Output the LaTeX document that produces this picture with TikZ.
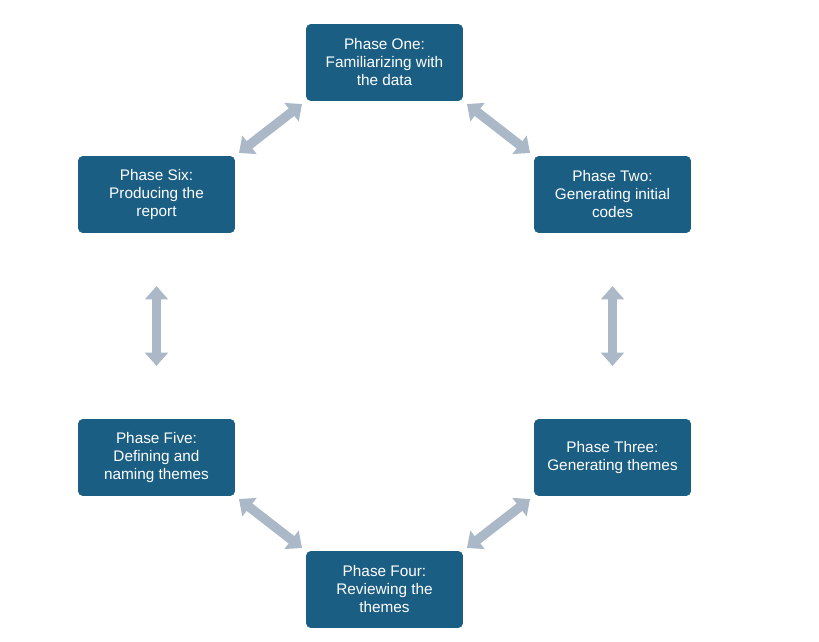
\documentclass[tikz,border=0pt]{standalone}
\usepackage{fontspec}
\setmainfont{Liberation Sans}
\usetikzlibrary{arrows.meta}
\definecolor{phaseblue}{HTML}{1B5E83}
\definecolor{linkgrey}{HTML}{ABB8C7}
\tikzset{
  phase/.style={draw=phaseblue, fill=phaseblue, rounded corners=3pt, text=white,
    minimum width=117pt, minimum height=57pt, align=center, font=\fontsize{11.5}{13.5}\selectfont},
  link/.style={draw=linkgrey, line width=7pt,
    {Triangle[width=17pt,length=10pt]}-{Triangle[width=17pt,length=10pt]}}
}
\begin{document}
\begin{tikzpicture}[x=0.75pt, y=-0.75pt]
        \useasboundingbox (0,0) rectangle (819,642);
        % Nodes
        \node (one) [phase] at (384.5,62.5) {Phase One:\\Familiarizing with\\the data};
        \node (two) [phase] at (612.5,194.5) {Phase Two:\\Generating initial\\codes};
        \node (three) [phase] at (612.5,457.5) {Phase Three:\\Generating themes};
        \node (four) [phase] at (384.5,589.5) {Phase Four:\\Reviewing the\\themes};
        \node (five) [phase] at (156.5,457.5) {Phase Five:\\Defining and\\naming themes};
        \node (six) [phase] at (156.5,194.5) {Phase Six:\\Producing the\\report};

        % Arrows
        \draw [link, shorten <=4pt, shorten >=4pt] (one.south east) -- (two.north west);
        \draw [link, shorten <=40pt, shorten >=40pt] (two.south) -- (three.north);
        \draw [link, shorten <=4pt, shorten >=4pt] (three.south west) -- (four.north east);
        \draw [link, shorten <=4pt, shorten >=4pt] (four.north west) -- (five.south east);
        \draw [link, shorten <=40pt, shorten >=40pt] (five.north) -- (six.south);
        \draw [link, shorten <=4pt, shorten >=4pt] (six.north east) -- (one.south west);
\end{tikzpicture}
\end{document}
